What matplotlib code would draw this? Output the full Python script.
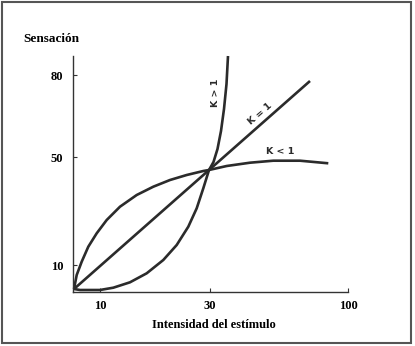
import numpy as np
import matplotlib
matplotlib.use('Agg')
import matplotlib.pyplot as plt
from matplotlib.patches import Rectangle

# Curves (arbitrary units along each axis)
k_gt1_x = [1, 7, 27, 40.3, 57, 73.7, 90.3, 103.7, 115.3, 123.7, 130.3, 136, 140.5, 144.5, 148, 151, 153.5, 155]
k_gt1_y = [3, 2, 2, 4.3, 9.7, 18.7, 32, 47, 65.3, 83.7, 103.7, 122, 130, 143, 161, 183, 208, 236]

k_lt1_x = [1, 3.7, 8.7, 15.3, 23.7, 33.7, 47, 63.7, 80.3, 97, 113.7, 130.3, 136, 153.7, 177, 200.3, 227, 255.3]
k_lt1_y = [3, 17, 30.3, 45.3, 58.7, 72, 85.3, 97, 105.3, 112, 117, 121, 122, 126, 129.3, 131.3, 131.3, 128.7]

k_eq1_x = [1, 237]
k_eq1_y = [3, 211]

x_ticks = [27, 137, 275]
x_labels = ['10', '30', '100']
y_ticks = [27, 135, 217]
y_labels = ['10', '50', '80']

serif = 'Liberation Serif'
ink = '#2b2b2b'

fig = plt.figure(figsize=(4.15, 3.46), dpi=100)
fig.patch.set_facecolor('white')
fig.patches.append(Rectangle((2 / 415, 3 / 346), 409 / 415, 341 / 346, transform=fig.transFigure,
                             fill=False, edgecolor='#555555', linewidth=1.5))

ax = fig.add_axes([73 / 415, 54 / 346, 275 / 415, 236 / 346])
ax.set_xlim(0, 275)
ax.set_ylim(0, 236)

for xs, ys in [(k_gt1_x, k_gt1_y), (k_lt1_x, k_lt1_y), (k_eq1_x, k_eq1_y)]:
    ax.plot(xs, ys, color=ink, linewidth=1.9, solid_capstyle='butt', solid_joinstyle='round', clip_on=False)

ax.spines['top'].set_visible(False)
ax.spines['right'].set_visible(False)
for s in ['left', 'bottom']:
    ax.spines[s].set_color('#333333')
    ax.spines[s].set_linewidth(1.0)

ax.set_xticks(x_ticks)
ax.set_xticklabels(x_labels, fontfamily=serif, fontweight='bold', fontsize=9)
ax.set_yticks(y_ticks)
ax.set_yticklabels(y_labels, fontfamily=serif, fontweight='bold', fontsize=9)
ax.tick_params(axis='x', direction='in', length=3, pad=6, color='#333333')
ax.tick_params(axis='y', direction='in', length=3, pad=7, color='#333333')

fig.text(23 / 415, 1 - 39 / 346, 'Sensación', fontfamily=serif, fontweight='bold', fontsize=9.5, va='center', ha='left')
fig.text(214 / 415, 1 - 325 / 346, 'Intensidad del estímulo', fontfamily=serif, fontweight='bold', fontsize=9,
         va='center', ha='center')

ax.text(142, 199, 'K > 1', rotation=90, fontsize=6.8, fontweight='bold', ha='center', va='center', color=ink)
ax.text(187, 178, 'K = 1', rotation=41, fontsize=6.8, fontweight='bold', ha='center', va='center', color=ink)
ax.text(207, 141, 'K < 1', rotation=0, fontsize=6.8, fontweight='bold', ha='center', va='center', color=ink)

fig.savefig('out.png', dpi=100)
